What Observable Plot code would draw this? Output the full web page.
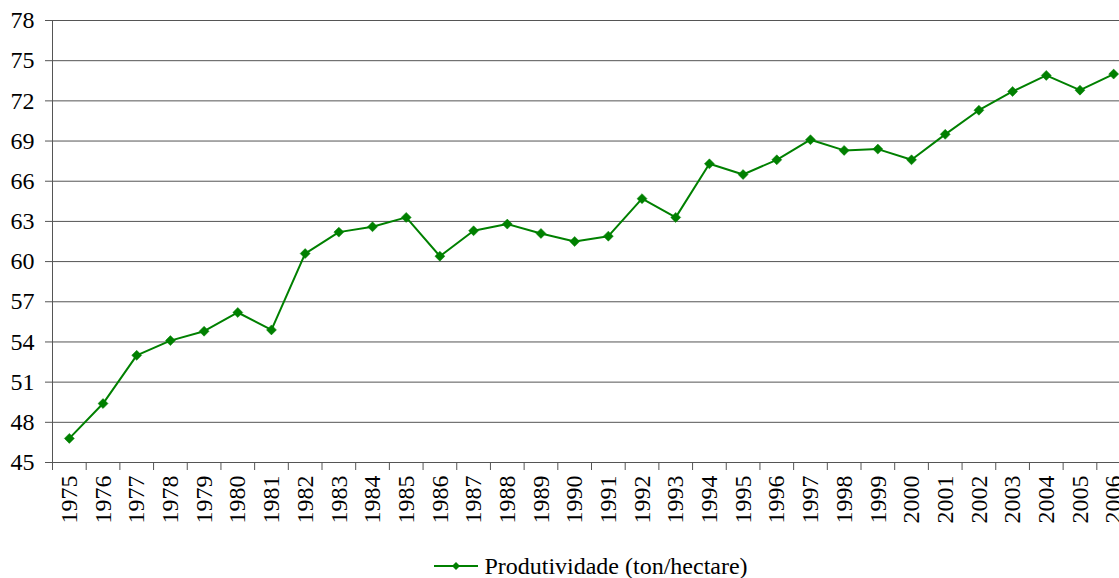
<!DOCTYPE html>
<html><head><meta charset="utf-8">
<script src="https://cdn.jsdelivr.net/npm/d3@7"></script>
<script src="https://cdn.jsdelivr.net/npm/@observablehq/plot@0.6"></script>
<style>
html,body{margin:0;padding:0;overflow:hidden;background:#fff;}
#wrap{width:1119px;height:578px;overflow:hidden;position:relative;font-family:'Liberation Serif','Times New Roman',Times,serif;}
#chart{position:absolute;left:0;top:0;width:1131px;}
#chart svg{max-width:none !important;width:1131px !important;height:548px !important;}
#chart svg, #chart svg text{font-family:'Liberation Serif','Times New Roman',Times,serif !important;font-size:24px !important;}
#legend{position:absolute;left:0;top:553px;width:1182px;text-align:center;font-size:24px;line-height:26px;color:#000;white-space:nowrap;font-family:'Liberation Serif','Times New Roman',Times,serif;}
#legend svg{vertical-align:middle;margin-right:6px;position:relative;top:-2px;}
</style>
</head><body>
<div id="wrap"><div id="chart"></div><div id="legend"></div></div>
<script>
const years = [1975,1976,1977,1978,1979,1980,1981,1982,1983,1984,1985,1986,1987,1988,1989,1990,1991,1992,1993,1994,1995,1996,1997,1998,1999,2000,2001,2002,2003,2004,2005,2006];
const produtividade = [46.8,49.4,53.0,54.1,54.8,56.2,54.9,60.6,62.2,62.6,63.3,60.4,62.3,62.8,62.1,61.5,61.9,64.7,63.3,67.3,66.5,67.6,69.1,68.3,68.4,67.6,69.5,71.3,72.7,73.9,72.8,74.0];
const yTicks = [45,48,51,54,57,60,63,66,69,72,75,78];
const seriesName = "Produtividade (ton/hectare)";

const data = years.map((y, i) => ({year: y, value: produtividade[i]}));
const boundaries = years.map(y => y - 0.5).concat([years[years.length - 1] + 0.5]);
const green = "#008000";
const grid = "#555";
const serif = "'Liberation Serif','Times New Roman',Times,serif";

const chart = Plot.plot({
  width: 1131,
  height: 548,
  marginLeft: 52,
  marginRight: 1,
  marginTop: 20,
  marginBottom: 86,
  style: {fontFamily: serif, fontSize: "24px", color: "#000", background: "#fff", maxWidth: "none"},
  x: {type: "linear", domain: [years[0] - 0.5, years[years.length - 1] + 0.5]},
  y: {domain: [yTicks[0], yTicks[yTicks.length - 1]]},
  marks: [
    Plot.ruleY(yTicks, {stroke: grid, strokeWidth: 1}),
    Plot.ruleX([boundaries[0]], {stroke: grid, strokeWidth: 1}),
    Plot.axisY({ticks: yTicks, tickSize: 7, tickPadding: 11, stroke: grid, label: null, fontSize: 24, fontFamily: serif}),
    Plot.axisX({ticks: boundaries, tickSize: 8, stroke: grid, tickFormat: () => "", label: null}),
    Plot.axisX({ticks: years, tickSize: 0, tickPadding: 13, tickRotate: -90, tickFormat: d => String(d), label: null, fontSize: 24, fontFamily: serif}),
    Plot.line(data, {x: "year", y: "value", stroke: green, strokeWidth: 2}),
    Plot.dot(data, {x: "year", y: "value", symbol: "diamond2", r: 4.5, fill: green, stroke: green, strokeWidth: 0.5})
  ]
});
document.getElementById("chart").appendChild(chart);

const leg = document.getElementById("legend");
leg.innerHTML = `<svg width="44" height="12" viewBox="0 0 44 12"><line x1="0" y1="6" x2="44" y2="6" stroke="${green}" stroke-width="2"/><path d="M22,2 L26,6 L22,10 L18,6 Z" fill="${green}"/></svg>`;
const span = document.createElement("span");
span.textContent = seriesName;
leg.appendChild(span);
</script>
</body></html>
